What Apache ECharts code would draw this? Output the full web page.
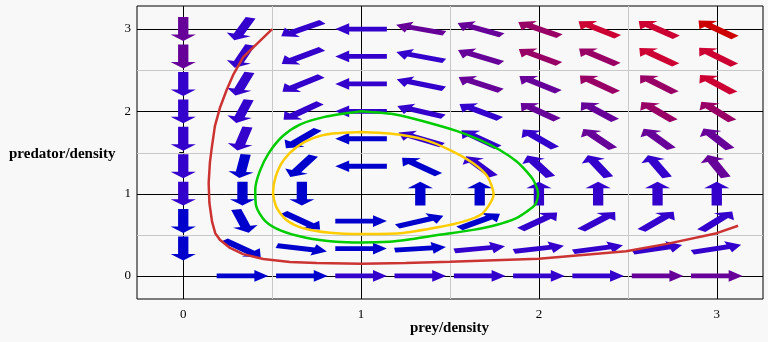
<!DOCTYPE html>
<html>
<head>
<meta charset="utf-8">
<title>Predator–prey phase portrait</title>
<script src="https://cdn.jsdelivr.net/npm/echarts@6/dist/echarts.min.js"></script>
<style>
  html, body { margin: 0; padding: 0; background: #f8f8f8; }
  #chart { width: 768px; height: 342px; }
</style>
</head>
<body>
<div id="chart"></div>
<script>
// Sample grid of the direction field (prey on x, predator on y)
const preyLevels = [0, 0.333, 0.667, 1, 1.333, 1.667, 2, 2.333, 2.667, 3];
const predatorLevels = [0, 0.333, 0.667, 1, 1.333, 1.667, 2, 2.333, 2.667, 3];

// Field components at each grid node: row = predator level, column = prey level
const fieldU = [
  [0, 0.33, 0.67, 1, 1.33, 1.67, 2, 2.33, 2.67, 3],
  [0, 0.22, 0.44, 0.67, 0.89, 1.11, 1.33, 1.56, 1.78, 2],
  [0, 0.11, 0.22, 0.33, 0.44, 0.56, 0.67, 0.78, 0.89, 1],
  [0, 0, 0, 0, 0, 0, 0, 0, 0, 0],
  [0, -0.11, -0.22, -0.33, -0.44, -0.56, -0.67, -0.78, -0.89, -1],
  [0, -0.22, -0.44, -0.67, -0.89, -1.11, -1.33, -1.56, -1.78, -2],
  [0, -0.33, -0.67, -1, -1.33, -1.67, -2, -2.33, -2.67, -3],
  [0, -0.44, -0.89, -1.33, -1.78, -2.22, -2.67, -3.11, -3.56, -4],
  [0, -0.56, -1.11, -1.67, -2.22, -2.78, -3.33, -3.89, -4.44, -5],
  [0, -0.67, -1.33, -2, -2.67, -3.33, -4, -4.67, -5.33, -6]
];
const fieldV = [
  [0, 0, 0, 0, 0, 0, 0, 0, 0, 0],
  [-0.33, -0.22, -0.11, 0, 0.11, 0.22, 0.33, 0.44, 0.56, 0.67],
  [-0.67, -0.44, -0.22, 0, 0.22, 0.44, 0.67, 0.89, 1.11, 1.33],
  [-1, -0.67, -0.33, 0, 0.33, 0.67, 1, 1.33, 1.67, 2],
  [-1.33, -0.89, -0.44, 0, 0.44, 0.89, 1.33, 1.78, 2.22, 2.67],
  [-1.67, -1.11, -0.56, 0, 0.56, 1.11, 1.67, 2.22, 2.78, 3.33],
  [-2, -1.33, -0.67, 0, 0.67, 1.33, 2, 2.67, 3.33, 4],
  [-2.33, -1.56, -0.78, 0, 0.78, 1.56, 2.33, 3.11, 3.89, 4.67],
  [-2.67, -1.78, -0.89, 0, 0.89, 1.78, 2.67, 3.56, 4.44, 5.33],
  [-3, -2, -1, 0, 1, 2, 3, 4, 5, 6]
];

// Trajectories
const outerPath = [
  [0.5, 3.0], [0.337, 2.66], [0.28, 2.44], [0.244, 2.26], [0.206, 2.04],
  [0.178, 1.82], [0.16, 1.55], [0.15, 1.38], [0.143, 1.13], [0.147, 0.89],
  [0.162, 0.66], [0.18, 0.52], [0.206, 0.44], [0.263, 0.34], [0.337, 0.265],
  [0.45, 0.205], [0.6, 0.17], [0.75, 0.156], [1.0, 0.149], [1.25, 0.158],
  [1.5, 0.173], [2.0, 0.21], [2.49, 0.3], [2.72, 0.39], [3.0, 0.52], [3.12, 0.61]
];
const middleOrbit = [
  [1.0, 2.0], [0.79, 1.93], [0.656, 1.84], [0.56, 1.7], [0.48, 1.49],
  [0.43, 1.27], [0.405, 1.05], [0.41, 0.85], [0.46, 0.67], [0.55, 0.55],
  [0.69, 0.465], [0.86, 0.415], [1.0, 0.405], [1.16, 0.415], [1.26, 0.44],
  [1.44, 0.5], [1.63, 0.56], [1.76, 0.62], [1.87, 0.7], [1.93, 0.78],
  [1.98, 0.87], [1.995, 1.0], [1.97, 1.16], [1.93, 1.27], [1.875, 1.39],
  [1.78, 1.53], [1.67, 1.65], [1.54, 1.76], [1.35, 1.88], [1.2, 1.96], [1.0, 2.0]
];
const innerOrbit = [
  [1.0, 1.75], [0.84, 1.73], [0.73, 1.675], [0.64, 1.57], [0.565, 1.41],
  [0.52, 1.21], [0.505, 1.01], [0.525, 0.83], [0.58, 0.68], [0.675, 0.58],
  [0.825, 0.525], [1.0, 0.51], [1.22, 0.52], [1.44, 0.595], [1.575, 0.66],
  [1.67, 0.74], [1.715, 0.845], [1.745, 0.99], [1.71, 1.21], [1.63, 1.37],
  [1.5, 1.53], [1.35, 1.66], [1.16, 1.73], [1.0, 1.75]
];

// Axis ticks and labels
const tickValues = [0, 0.5, 1, 1.5, 2, 2.5, 3];
const labelValues = [0, 1, 2, 3];
const majorLines = [0, 1, 2, 3];
const minorLines = [0.5, 1.5, 2.5];

const X_RANGE = [-0.26, 3.26];
const Y_RANGE = [-0.28, 3.28];

// Arrow geometry (data units) and magnitude colour bands
const ARROW_LEN = 0.29;
const HEAD_LEN = 0.078;
const HEAD_HALF = 0.071;
const SHAFT_HALF = 0.029;
const bandLimits = [0.9, 2.5, 4.1, 5.7, 7.9];
const bandColors = ['#0000cc', '#3300cc', '#660099', '#990066', '#cc0033', '#cc0000'];

function arrowColor(m) {
  let k = 0;
  while (k < bandLimits.length && m >= bandLimits[k]) k++;
  return bandColors[k];
}

const arrowData = [];
predatorLevels.forEach((py, j) => {
  preyLevels.forEach((px, i) => {
    const u = fieldU[j][i], v = fieldV[j][i];
    if (u !== 0 || v !== 0) arrowData.push([px, py, u, v]);
  });
});

const gridLineData = [];
majorLines.forEach(v => { gridLineData.push([v, 0, 1]); gridLineData.push([v, 1, 1]); });
minorLines.forEach(v => { gridLineData.push([v, 0, 0]); gridLineData.push([v, 1, 0]); });

function renderGridLine(params, api) {
  const v = api.value(0), vertical = api.value(1) === 0, major = api.value(2) === 1;
  let a, b;
  if (vertical) { a = api.coord([v, Y_RANGE[0]]); b = api.coord([v, Y_RANGE[1]]); a[0] = b[0] = Math.round(a[0]) + 0.5; }
  else { a = api.coord([X_RANGE[0], v]); b = api.coord([X_RANGE[1], v]); a[1] = b[1] = Math.round(a[1]) + 0.5; }
  return {
    type: 'line',
    shape: { x1: a[0], y1: a[1], x2: b[0], y2: b[1] },
    style: { stroke: major ? '#000000' : '#c8c8c8', lineWidth: 1 }
  };
}

function renderArrow(params, api) {
  const x = api.value(0), y = api.value(1), u = api.value(2), v = api.value(3);
  const m = Math.hypot(u, v);
  const dx = u / m, dy = v / m;
  const nx = -dy, ny = dx;
  const h = ARROW_LEN / 2;
  const tail = [x - dx * h, y - dy * h];
  const tip = [x + dx * h, y + dy * h];
  const base = [tip[0] - dx * HEAD_LEN, tip[1] - dy * HEAD_LEN];
  const pts = [
    [tail[0] + nx * SHAFT_HALF, tail[1] + ny * SHAFT_HALF],
    [base[0] + nx * SHAFT_HALF, base[1] + ny * SHAFT_HALF],
    [base[0] + nx * HEAD_HALF, base[1] + ny * HEAD_HALF],
    tip,
    [base[0] - nx * HEAD_HALF, base[1] - ny * HEAD_HALF],
    [base[0] - nx * SHAFT_HALF, base[1] - ny * SHAFT_HALF],
    [tail[0] - nx * SHAFT_HALF, tail[1] - ny * SHAFT_HALF]
  ].map(p => api.coord(p));
  return { type: 'polygon', shape: { points: pts }, style: { fill: arrowColor(m) } };
}

const serif = 'Liberation Serif, Times New Roman, serif';
const chart = echarts.init(document.getElementById('chart'), null, { renderer: 'canvas' });

chart.setOption({
  animation: false,
  backgroundColor: '#f8f8f8',
  grid: {
    left: 137, top: 6, width: 626, height: 293,
    show: true, borderColor: '#000000', borderWidth: 1, backgroundColor: 'transparent'
  },
  xAxis: {
    type: 'value', min: X_RANGE[0], max: X_RANGE[1],
    axisLine: { show: false },
    splitLine: { show: false },
    axisTick: { show: true, customValues: tickValues, length: 4, lineStyle: { color: '#000' } },
    axisLabel: {
      customValues: labelValues, formatter: v => String(v),
      fontFamily: serif, fontSize: 13, color: '#000', margin: 9
    }
  },
  yAxis: {
    type: 'value', min: Y_RANGE[0], max: Y_RANGE[1],
    axisLine: { show: false },
    splitLine: { show: false },
    axisTick: { show: true, customValues: tickValues, length: 4, lineStyle: { color: '#000' } },
    axisLabel: {
      customValues: labelValues, formatter: v => String(v),
      fontFamily: serif, fontSize: 13, color: '#000', margin: 6
    }
  },
  graphic: [
    { type: 'text', left: 9, top: 147, style: { text: 'predator/density', font: 'bold 15px ' + serif, fill: '#000' } },
    { type: 'text', left: 410, top: 321, style: { text: 'prey/density', font: 'bold 15px ' + serif, fill: '#000' } }
  ],
  series: [
    {
      name: 'grid', type: 'custom', coordinateSystem: 'cartesian2d', silent: true, z: 1,
      renderItem: renderGridLine, data: gridLineData, encode: { x: 0 }
    },
    {
      name: 'field', type: 'custom', coordinateSystem: 'cartesian2d', silent: true, z: 2,
      renderItem: renderArrow, data: arrowData, encode: { x: 0, y: 1 }
    },
    {
      name: 'outer', type: 'line', data: outerPath, showSymbol: false, z: 3,
      lineStyle: { color: '#cc3333', width: 2.5 }
    },
    {
      name: 'middle', type: 'line', data: middleOrbit, showSymbol: false, smooth: 0.25, z: 3,
      lineStyle: { color: '#00cc00', width: 2.5 }
    },
    {
      name: 'inner', type: 'line', data: innerOrbit, showSymbol: false, smooth: 0.25, z: 3,
      lineStyle: { color: '#ffcc00', width: 2.5 }
    }
  ]
});
</script>
</body>
</html>
